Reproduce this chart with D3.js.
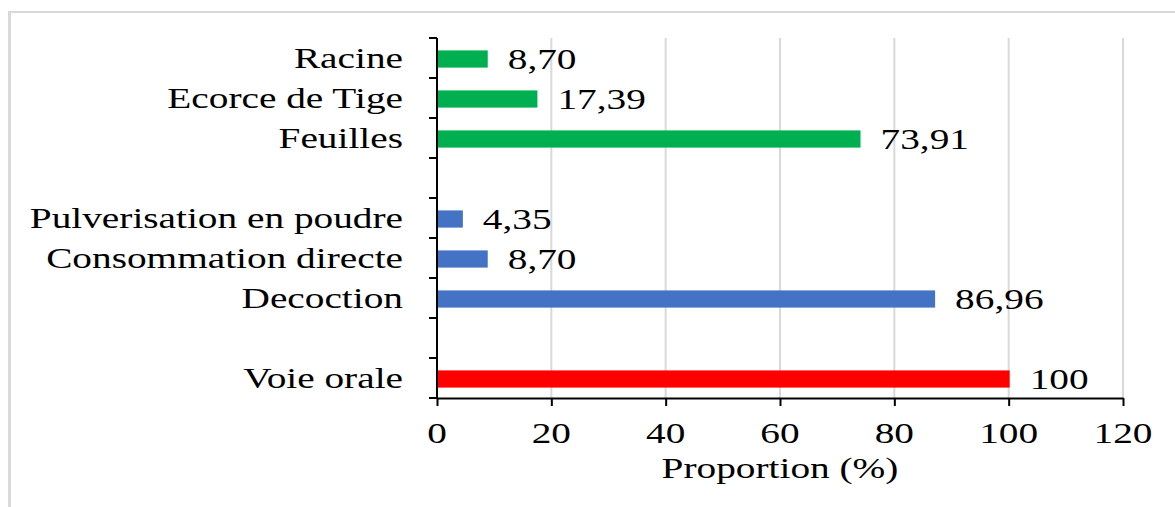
<!DOCTYPE html>
<html>
<head>
<meta charset="utf-8">
<script src="https://cdn.jsdelivr.net/npm/d3@7"></script>
<style>
  body { margin: 0; background: #fff; }
  text { font-family: "Liberation Serif", "Times New Roman", serif; fill: #000; }
</style>
</head>
<body>
<script>
// données (de haut en bas, "" = ligne vide)
const categories = ['Racine', 'Ecorce de Tige', 'Feuilles', '',
  'Pulverisation en poudre', 'Consommation directe', 'Decoction', '',
  'Voie orale'];
const valeurs = [8.70, 17.39, 73.91, null, 4.35, 8.70, 86.96, null, 100];
const groupes = ['partie', 'partie', 'partie', null,
  'mode', 'mode', 'mode', null, 'voie'];
const ticksX = [0, 20, 40, 60, 80, 100, 120];

const couleurs = { partie: '#00B050', mode: '#4472C4', voie: '#FF0000' };
const largeurTexte = 1.31; // le texte de l'image est étiré horizontalement

const W = 1175, H = 507;
const svg = d3.select('body').append('svg')
  .attr('width', W).attr('height', H);

// cadre gris
svg.append('line').attr('x1', 8).attr('x2', W).attr('y1', 12).attr('y2', 12)
  .attr('stroke', '#d9d9d9').attr('stroke-width', 2);
svg.append('line').attr('x1', 9.5).attr('x2', 9.5).attr('y1', 11).attr('y2', H)
  .attr('stroke', '#d9d9d9').attr('stroke-width', 3);

const x = d3.scaleLinear().domain([0, 120]).range([437, 1123]);
const y = d3.scaleBand().domain(d3.range(categories.length)).range([38, 398]);

const fmt = d3.formatLocale({ decimal: ',', thousands: ' ', grouping: [3], currency: ['', ''] }).format('.2f');
const etiquette = v => Number.isInteger(v) ? String(v) : fmt(v);

// texte étiré
const texte = (g, tx, ty, s, anchor, size) => g.append('text')
  .attr('transform', `translate(${tx},${ty}) scale(${largeurTexte},1)`)
  .attr('text-anchor', anchor)
  .attr('font-size', size)
  .text(s);

// grille verticale
svg.append('g').selectAll('line')
  .data(ticksX.slice(1))
  .join('line')
  .attr('x1', d => x(d)).attr('x2', d => x(d))
  .attr('y1', y.range()[0]).attr('y2', y.range()[1])
  .attr('stroke', '#d9d9d9').attr('stroke-width', 2);

// barres
const lignes = categories.map((c, i) => ({ c, v: valeurs[i], g: groupes[i], i }))
  .filter(d => d.v != null);
const hBarre = y.bandwidth() * 0.43;
svg.append('g').selectAll('rect')
  .data(lignes)
  .join('rect')
  .attr('x', x(0))
  .attr('y', d => y(d.i) + y.bandwidth() / 2 - hBarre / 2 + 1)
  .attr('width', d => x(d.v) - x(0) + 1)
  .attr('height', hBarre)
  .attr('fill', d => couleurs[d.g]);

// étiquettes de valeurs
const gv = svg.append('g');
lignes.forEach(d => texte(gv, x(d.v) + 21, y(d.i) + y.bandwidth() / 2 + 11,
  etiquette(d.v), 'start', 30));

// noms des catégories
const gc = svg.append('g');
lignes.forEach(d => texte(gc, 403, y(d.i) + y.bandwidth() / 2 + 10, d.c, 'end', 30));

// axe X
const axeX = svg.append('g')
  .attr('transform', `translate(0,${y.range()[1]})`)
  .call(d3.axisBottom(x).tickValues(ticksX).tickSize(8).tickSizeOuter(0).tickFormat(''));
axeX.selectAll('line, path').attr('stroke', '#000').attr('stroke-width', 2);
const gt = svg.append('g');
ticksX.forEach(t => texte(gt, x(t), 443, String(t), 'middle', 30));
texte(svg, (x(0) + x(120)) / 2, 478, 'Proportion (%)', 'middle', 30);

// axe Y avec graduations entre les catégories
const axeY = svg.append('g');
axeY.append('line')
  .attr('x1', x(0)).attr('x2', x(0))
  .attr('y1', y.range()[0]).attr('y2', y.range()[1] + 1)
  .attr('stroke', '#000').attr('stroke-width', 2);
axeY.selectAll('.grad')
  .data(d3.range(categories.length + 1))
  .join('line')
  .attr('class', 'grad')
  .attr('x1', x(0) - 8).attr('x2', x(0))
  .attr('y1', i => y.range()[0] + i * y.step())
  .attr('y2', i => y.range()[0] + i * y.step())
  .attr('stroke', '#000').attr('stroke-width', 2);
</script>
</body>
</html>
